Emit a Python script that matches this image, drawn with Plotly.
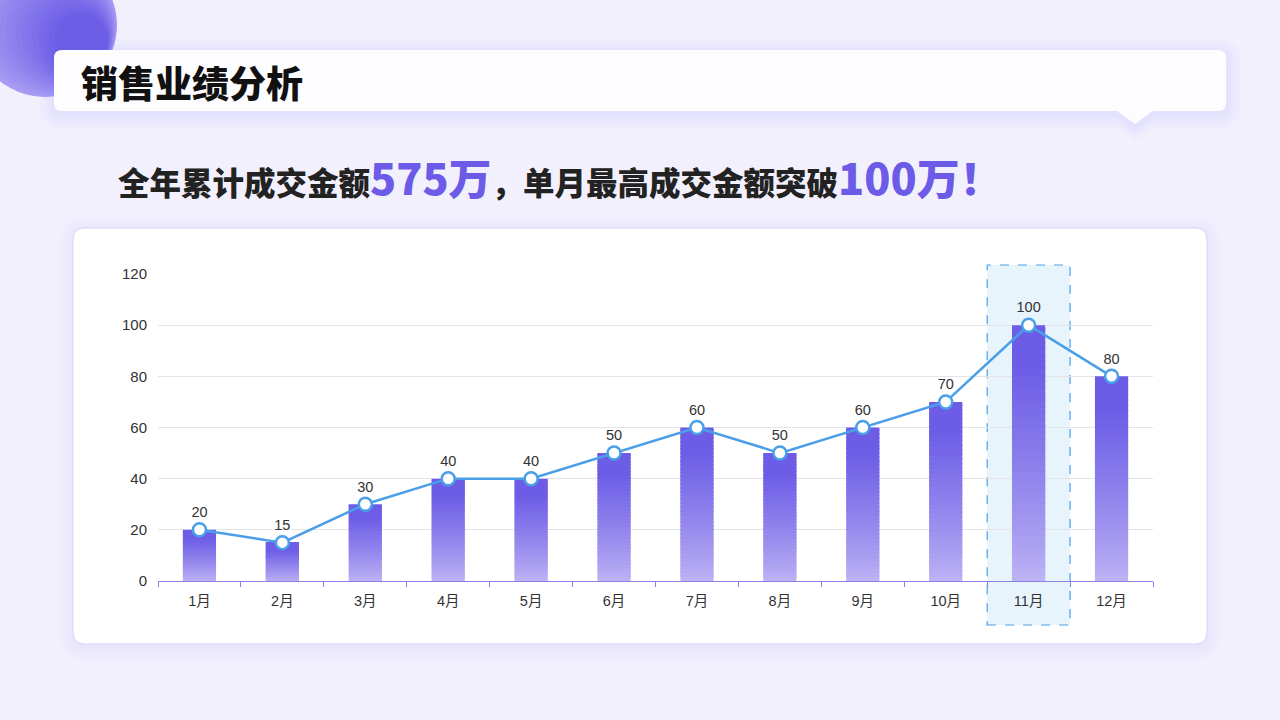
import plotly.graph_objects as go
import numpy as np

# data
months = ["1月", "2月", "3月", "4月", "5月", "6月", "7月", "8月", "9月", "10月", "11月", "12月"]
sales = [20, 15, 30, 40, 40, 50, 60, 50, 60, 70, 100, 80]
y_ticks = [0, 20, 40, 60, 80, 100, 120]

title = "销售业绩分析"
sub_a, sub_b, sub_c, sub_d = "全年累计成交金额", "575万", "，单月最高成交金额突破", "100万！"

FONT = "Noto Sans CJK SC"
AXFONT = "Liberation Sans, Noto Sans CJK SC"
W, H = 1280, 720
L, R, T, B = 158, 127, 274, 139  # plot area in pixels
PW, PH = W - L - R, H - T - B


def px(x):
    return (x - L) / PW


def py(y):
    return (H - B - y) / PH


def rrect(x0, y0, x1, y1, r, pointer=None):
    pts = f"M{px(x0 + r)},{py(y0)} L{px(x1 - r)},{py(y0)} Q{px(x1)},{py(y0)} {px(x1)},{py(y0 + r)} "
    pts += f"L{px(x1)},{py(y1 - r)} Q{px(x1)},{py(y1)} {px(x1 - r)},{py(y1)} "
    if pointer:
        cx, w, h = pointer
        pts += f"L{px(cx + w)},{py(y1)} L{px(cx)},{py(y1 + h)} L{px(cx - w)},{py(y1)} "
    pts += f"L{px(x0 + r)},{py(y1)} Q{px(x0)},{py(y1)} {px(x0)},{py(y1 - r)} "
    pts += f"L{px(x0)},{py(y0 + r)} Q{px(x0)},{py(y0)} {px(x0 + r)},{py(y0)} Z"
    return pts


def lerp(c1, c2, t):
    return "rgb(%d,%d,%d)" % tuple(round(a + (b - a) * t) for a, b in zip(c1, c2))


shapes = []

# corner circle, faked gradient with stacked circles
light, dark = (168, 156, 243), (110, 94, 230)
n = 16
for i in range(n):
    r = 72 - i * 3.0
    cx, cy = 45 + i * 2.4, 25 + i * 1.0
    shapes.append(dict(type="circle", xref="paper", yref="paper", layer="below",
                       x0=px(cx - r), x1=px(cx + r), y0=py(cy - r), y1=py(cy + r),
                       fillcolor=lerp(light, dark, i / (n - 1)), line=dict(width=0)))

# soft shadows
for k in range(5):
    e = 2 + k * 3
    shapes.append(dict(type="path", xref="paper", yref="paper", layer="below",
                       path=rrect(54 - e, 53 - e, 1226 + e, 114 + e, 8 + e, (1135, 18, 13)),
                       fillcolor="rgba(120,100,235,0.018)", line=dict(width=0)))
    shapes.append(dict(type="path", xref="paper", yref="paper", layer="below",
                       path=rrect(73 - e, 231 - e, 1207 + e, 647 + e, 12 + e),
                       fillcolor="rgba(120,100,235,0.015)", line=dict(width=0)))

# title card with pointer
shapes.append(dict(type="path", xref="paper", yref="paper", layer="below",
                   path=rrect(54, 50, 1226, 111, 8, (1135, 18, 13)),
                   fillcolor="#fdfcff", line=dict(width=0)))
# chart card
shapes.append(dict(type="path", xref="paper", yref="paper", layer="below",
                   path=rrect(73, 228, 1207, 644, 12),
                   fillcolor="#ffffff", line=dict(color="#d9d3f6", width=1)))

# highlight on the best month
imax = int(np.argmax(sales))
shapes.append(dict(type="rect", xref="paper", yref="paper", layer="below",
                   x0=imax / len(months), x1=(imax + 1) / len(months),
                   y0=py(625), y1=py(265),
                   fillcolor="rgba(228,243,252,0.9)",
                   line=dict(color="#4a9fe8", width=1.2, dash="dash")))

fig = go.Figure()

# gradient bars: slices from light (bottom) to dark (top), slight overlap
bar_light, bar_dark = (188, 178, 244), (108, 92, 230)
N = 40
vals = np.array(sales, dtype=float)
for k in range(N):
    t = k / (N - 1)
    base = vals * k / N
    top = np.minimum(vals, vals * (k + 1.6) / N)
    fig.add_trace(go.Bar(
        x=months, y=top - base, base=base, width=0.4,
        marker=dict(color=lerp(bar_light, bar_dark, min(1.0, t / 0.85) ** 0.85), line=dict(width=0)),
        hoverinfo="skip", showlegend=False))

fig.add_trace(go.Scatter(
    x=months, y=sales, mode="lines+markers+text",
    text=[str(v) for v in sales], textposition="top center",
    textfont=dict(size=14.5, color="#333333", family=AXFONT),
    line=dict(color="#4a9fe8", width=2.5),
    marker=dict(size=13, color="white", line=dict(color="#4a9fe8", width=2.5)),
    cliponaxis=False, showlegend=False))

annotations = [
    dict(xref="paper", yref="paper", x=px(79), y=py(82), xanchor="left", yanchor="middle",
         text=title, showarrow=False,
         font=dict(size=37, color="#111111", family=FONT, weight=900)),
    dict(xref="paper", yref="paper", x=px(116), y=py(176), xanchor="left", yanchor="middle",
         text=(f"{sub_a}<span style='font-size:43px;color:#6b5be6'>{sub_b}</span>"
               f"{sub_c}<span style='font-size:43px;color:#6b5be6'>{sub_d}</span>"),
         showarrow=False, font=dict(size=31.5, color="#222222", family=FONT, weight=800)),
]

fig.update_layout(
    width=W, height=H,
    margin=dict(l=L, r=R, t=T, b=B, pad=0),
    paper_bgcolor="#f2f0fd", plot_bgcolor="rgba(0,0,0,0)",
    barmode="overlay",
    font=dict(family=AXFONT, color="#333333", size=14),
    shapes=shapes, annotations=annotations,
    xaxis=dict(range=[-0.5, 11.5], showline=True, linecolor="#8b80e4", linewidth=1.2,
               ticks="outside", tickson="boundaries", ticklen=5, tickcolor="#8b80e4",
               ticklabelstandoff=6,
               showgrid=False, tickfont=dict(size=14.5, color="#333333"), fixedrange=True),
    yaxis=dict(range=[0, 120], tickvals=y_ticks, showline=False, zeroline=False,
               gridcolor="#e4e4e8", gridwidth=1, ticks="", ticklabelstandoff=10,
               tickfont=dict(size=15, color="#333333"), fixedrange=True),
)

fig.write_html("out.html", config={"displayModeBar": False},
               post_script="document.body.style.margin='0';")
